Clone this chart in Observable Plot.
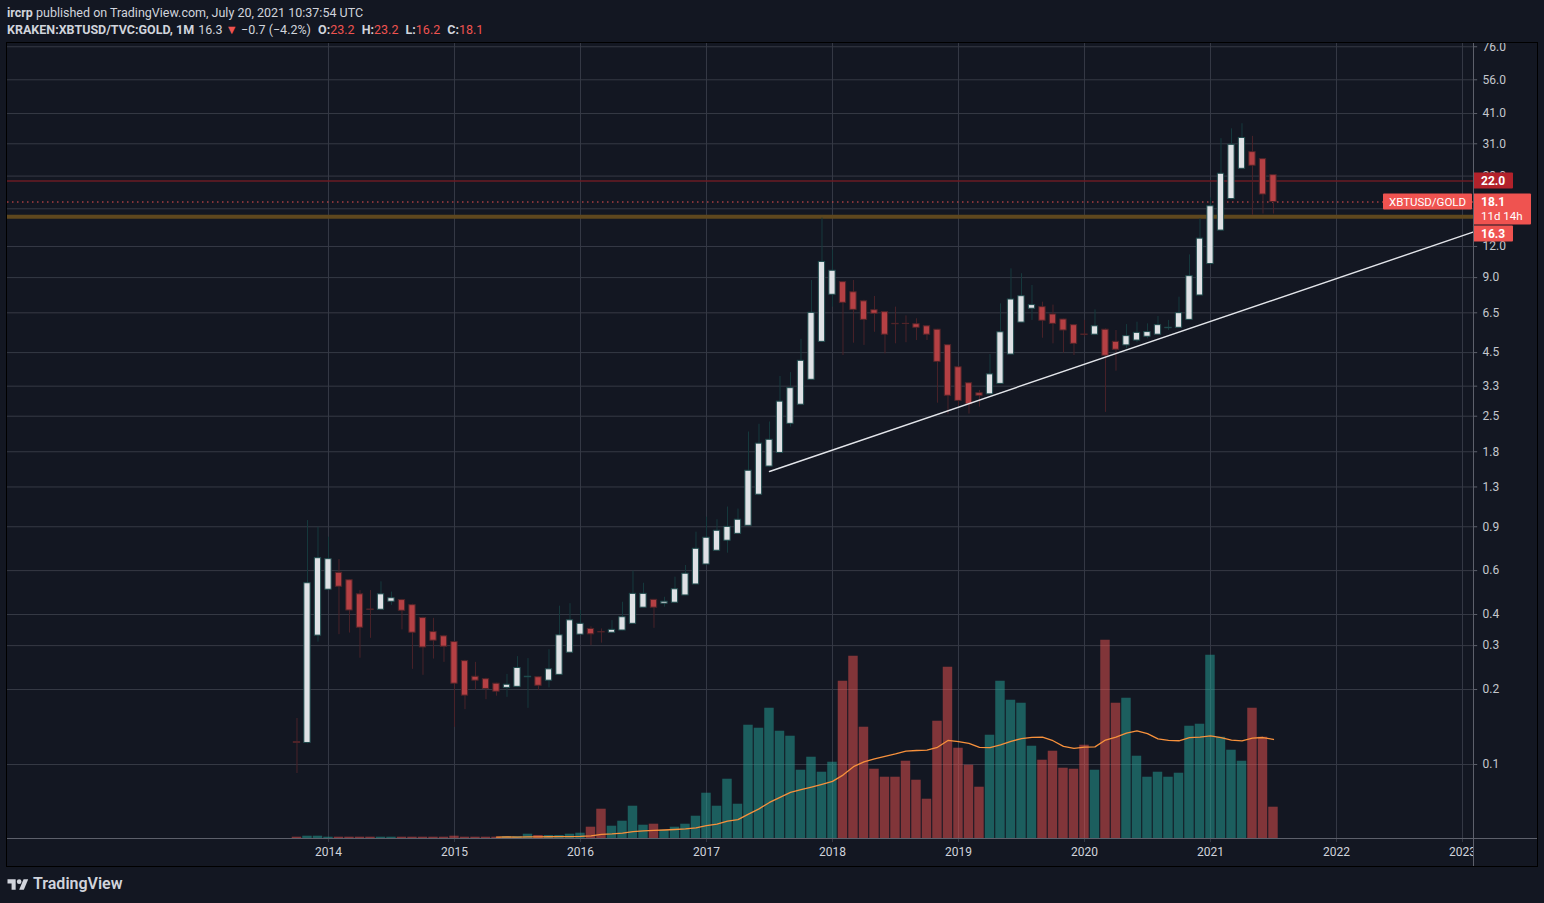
<!DOCTYPE html>
<html><head><meta charset="utf-8">
<script src="https://cdn.jsdelivr.net/npm/d3@7"></script>
<script src="https://cdn.jsdelivr.net/npm/@observablehq/plot@0.6"></script>
<style>
body{margin:0;background:#131722;width:1544px;height:903px;position:relative;overflow:hidden;font-family:Roboto,"Open Sans",sans-serif;color:#d1d4dc}
.hdr{position:absolute;left:7px;font-size:12.5px;white-space:nowrap;line-height:17px}
.hdr b{font-weight:700}
.red{color:#ef5350}
.gap{margin-left:4px}
.layer{position:absolute;left:0;top:43px}
#frame{position:absolute;left:6px;top:42px;width:1530px;height:823px;border:1px solid #000;pointer-events:none}
#sepV{position:absolute;left:1473px;top:43px;width:1px;height:823px;background:#5d606b}
#sepH{position:absolute;left:7px;top:838px;width:1530px;height:1px;background:#5d606b}
#mask{position:absolute;left:1474px;top:839px;width:63px;height:27px;background:#131722}
#footer{position:absolute;left:7px;top:874px;display:flex;align-items:center;gap:4px;font-size:16px;font-weight:600;color:#d1d4dc}
</style></head>
<body>
<div class="hdr" style="top:4px"><b>ircrp</b> published on TradingView.com, July 20, 2021 10:37:54 UTC</div>
<div class="hdr" style="top:21px"><b>KRAKEN:XBTUSD/TVC:GOLD, 1M</b><span class="gap">16.3</span> <span class="red">▼</span> −0.7 (−4.2%) <b class="gap">O:</b><span class="red">23.2</span> <b class="gap">H:</b><span class="red">23.2</span> <b class="gap">L:</b><span class="red">16.2</span> <b class="gap">C:</b><span class="red">18.1</span></div>
<div id="price" class="layer"></div>
<div id="vol" class="layer"></div>
<div id="mask"></div>
<div id="sepV"></div>
<div id="sepH"></div>
<div id="frame"></div>
<div id="footer"><svg width="22" height="14" viewBox="0 0 36 24"><path fill="#d1d4dc" d="M14 22H7V11H0V4h14v18z"/><circle fill="#d1d4dc" cx="20" cy="8" r="4"/><path fill="#d1d4dc" d="M28 22h-8l7.5-18h8z"/></svg><span>TradingView</span></div>
<script>
const months = ["2013-10","2013-11","2013-12",
"2014-01","2014-02","2014-03","2014-04","2014-05","2014-06","2014-07","2014-08","2014-09","2014-10","2014-11","2014-12",
"2015-01","2015-02","2015-03","2015-04","2015-05","2015-06","2015-07","2015-08","2015-09","2015-10","2015-11","2015-12",
"2016-01","2016-02","2016-03","2016-04","2016-05","2016-06","2016-07","2016-08","2016-09","2016-10","2016-11","2016-12",
"2017-01","2017-02","2017-03","2017-04","2017-05","2017-06","2017-07","2017-08","2017-09","2017-10","2017-11","2017-12",
"2018-01","2018-02","2018-03","2018-04","2018-05","2018-06","2018-07","2018-08","2018-09","2018-10","2018-11","2018-12",
"2019-01","2019-02","2019-03","2019-04","2019-05","2019-06","2019-07","2019-08","2019-09","2019-10","2019-11","2019-12",
"2020-01","2020-02","2020-03","2020-04","2020-05","2020-06","2020-07","2020-08","2020-09","2020-10","2020-11","2020-12",
"2021-01","2021-02","2021-03","2021-04","2021-05","2021-06","2021-07"];
const open = [0.123,0.122,0.329,
0.503,0.588,0.549,0.482,0.419,0.418,0.450,0.457,0.436,0.387,0.340,0.327,
0.310,0.260,0.225,0.220,0.211,0.203,0.205,0.224,0.224,0.217,0.229,0.281,
0.332,0.350,0.340,0.338,0.345,0.367,0.426,0.458,0.442,0.446,0.477,0.528,
0.635,0.721,0.791,0.843,0.908,1.21,1.57,1.78,2.33,2.78,3.50,4.97,
7.68,8.63,7.86,7.23,6.66,6.54,5.87,5.87,5.85,5.74,5.56,4.82,
3.93,3.39,3.09,3.06,3.37,4.42,5.94,6.75,6.85,6.40,6.11,5.80,
5.32,5.31,5.56,4.97,4.81,5.03,5.21,5.31,5.64,5.66,6.09,7.63,
10.2,13.9,18.6,24.6,28.7,26.9,23.2];
const high = [0.153,0.953,0.896,
0.817,0.665,0.552,0.499,0.499,0.541,0.492,0.460,0.440,0.390,0.386,0.330,
0.312,0.262,0.257,0.222,0.212,0.230,0.271,0.266,0.225,0.289,0.432,0.442,
0.415,0.357,0.350,0.378,0.448,0.597,0.534,0.460,0.469,0.565,0.629,0.856,
0.983,0.960,1.08,1.06,2.16,2.32,2.37,3.61,3.74,5.09,8.76,15.6,
11.6,8.65,8.76,7.30,7.56,6.56,6.85,6.32,6.15,5.76,5.58,4.84,
3.95,3.40,3.17,4.42,7.06,9.76,9.33,8.37,7.17,6.98,6.13,5.82,
6.06,6.68,5.60,5.52,5.83,5.96,5.87,6.28,6.06,7.51,11.1,15.5,
18.8,32.5,35.6,37.3,33.2,27.0,23.2];
const low = [0.092,0.121,0.310,
0.500,0.332,0.337,0.267,0.321,0.418,0.435,0.347,0.241,0.228,0.265,0.257,
0.141,0.166,0.198,0.182,0.188,0.186,0.204,0.168,0.198,0.203,0.228,0.280,
0.330,0.300,0.307,0.337,0.344,0.366,0.425,0.352,0.428,0.445,0.476,0.527,
0.630,0.720,0.705,0.840,0.905,1.20,1.56,1.77,2.26,2.77,3.49,4.96,
6.85,4.38,4.91,4.81,5.43,4.45,4.88,4.93,5.03,5.03,2.82,2.54,
2.75,2.55,2.72,3.05,3.36,4.41,5.93,6.06,5.14,4.88,4.48,4.38,
5.20,5.30,2.59,3.79,4.66,4.93,5.11,5.30,5.52,5.65,6.08,7.62,
10.1,13.8,18.5,24.5,16.0,16.2,16.2];
const close = [0.122,0.534,0.673,
0.667,0.517,0.415,0.354,0.417,0.482,0.465,0.414,0.338,0.295,0.314,0.297,
0.211,0.189,0.217,0.201,0.196,0.209,0.244,0.225,0.207,0.241,0.330,0.379,
0.367,0.333,0.339,0.347,0.390,0.484,0.484,0.426,0.450,0.505,0.583,0.734,
0.813,0.867,0.899,0.960,1.51,1.94,2.01,2.86,3.24,4.17,6.50,10.4,
9.59,7.13,6.68,6.09,6.44,5.31,5.85,5.86,5.66,5.31,4.13,3.02,
2.88,2.79,3.02,3.68,5.43,7.35,7.58,6.98,6.04,5.87,5.52,4.88,
5.30,5.74,4.37,4.62,5.24,5.40,5.44,5.80,5.66,6.48,9.12,12.9,
17.4,23.5,30.7,32.7,25.3,19.4,18.1];
const volume = [1.3,2.3,2.3,
1.3,1.3,1.3,1.3,1.3,1.3,1.3,1.3,1.3,1.3,1.3,1.3,
2.3,1.3,1.3,1.3,1.3,2,2,4.3,3,3,3,4.3,
5.3,11.3,29.3,12.3,17.3,32.3,13.3,14.3,8.3,11.3,14.3,22.3,
45.3,32.3,59.3,34.3,113.3,110.3,130.3,107.3,102.3,68.3,81.3,66.3,
76.3,157.3,182.3,111.3,69.3,61.3,61.3,77.3,58.3,39.3,117.3,171.3,
90.3,73.3,51.3,103.3,157.3,138.3,135.3,92.3,78.3,87.3,70.3,69.3,
93.3,68.3,198.3,135.3,140.3,82.3,61.3,66.3,61.3,65.3,112.3,114.3,
183.3,101.3,88.3,77.3,130.3,101.3,31.3];
const yTicks = [0.1,0.2,0.3,0.4,0.6,0.9,1.3,1.8,2.5,3.3,4.5,6.5,9,12,17,23,31,41,56,76];
const years = [2014,2015,2016,2017,2018,2019,2020,2021,2022,2023];
const trendMonths = ["2017-07","2023-02"];
const trendValues = [1.50,13.7];
const resistance = 22.0;   // red horizontal line
const support = 15.8;      // thick orange horizontal line
const lastPrice = 18.1;
const badgeLabels = {resistance:"22.0", symbol:"XBTUSD/GOLD", last:"18.1", countdown:"11d 14h", prev:"16.3"};

const idx = m => { const [y, mo] = m.split("-").map(Number); return (y - 2014) * 12 + mo - 1; };
const candles = months.map((m, k) => ({i: idx(m), open: open[k], high: high[k], low: low[k], close: close[k], vol: volume[k], up: close[k] >= open[k]}));
const ma = [];
for (let k = 19; k < volume.length; k++) ma.push({i: candles[k].i, v: d3.mean(volume.slice(k - 19, k + 1))});
const trend = trendMonths.map((m, k) => ({i: idx(m), v: trendValues[k]}));
const yearIdx = years.map(y => (y - 2014) * 12);

const W = 1544, H = 823;
const common = {width: W, height: H, marginLeft: 7, marginRight: 71, marginTop: 0, marginBottom: 28,
  style: {background: "transparent", fontFamily: "Roboto, sans-serif", fontSize: "12px", color: "#c4c7ce"}};
const xDomain = [-30.57, 109.05];
const GRID = "#363a45";

const price = Plot.plot({
  ...common,
  x: {type: "linear", domain: xDomain, axis: null},
  y: {type: "log", domain: [0.050463, 78.32], axis: null},
  marks: [
    Plot.ruleY(yTicks, {stroke: GRID}),
    Plot.ruleX(yearIdx, {stroke: GRID, insetBottom: -4}),
    Plot.ruleY([support], {stroke: "#5e471e", strokeWidth: 4}),
    Plot.ruleY([resistance], {stroke: "#6b1c24", strokeWidth: 1.5}),
    Plot.ruleY([lastPrice], {stroke: "#ef5350", strokeWidth: 1, strokeDasharray: "1.5,3.5"}),
    Plot.ruleX(candles, {x: "i", y1: "low", y2: "high", stroke: d => d.up ? "#163a3d" : "#4a2229", strokeWidth: 1}),
    Plot.rect(candles, {x1: d => d.i - 0.3, x2: d => d.i + 0.3, y1: "open", y2: "close",
      fill: d => d.up ? "#dfe1e5" : "#b54044", stroke: d => d.up ? "#1f4a4c" : "#4f2429", strokeWidth: 1}),
    Plot.line(trend, {x: "i", y: "v", stroke: "#e3e5ea", strokeWidth: 1.4}),
    // price axis: small ticks right of the pane and their labels
    Plot.ruleY(yTicks, {x1: xDomain[1], x2: xDomain[1] + 0.4, stroke: "#5d606b"}),
    Plot.text(yTicks, {x: xDomain[1], y: d => d, dx: 9, text: d => d.toFixed(1), textAnchor: "start",
      fill: "#c4c7ce", fontSize: 12}),
    // time axis labels
    Plot.text(yearIdx, {x: d => d, frameAnchor: "bottom", dy: 14, text: i => String(2014 + i / 12),
      fill: "#d1d4dc", fontSize: 12, lineAnchor: "middle"})
  ]
});
document.getElementById("price").appendChild(price);

// price badges placed through the library's y scale
const ys = price.scale("y");
const svg = d3.select(price);
const xr = W - common.marginRight;
const g = svg.append("g").attr("font-family", "Roboto, sans-serif").attr("font-size", 12);
function badge(x, y, w, h, fill) { g.append("rect").attr("x", x).attr("y", y).attr("width", w).attr("height", h).attr("fill", fill).attr("rx", 1); }
function label(x, y, t, opts = {}) { g.append("text").attr("x", x).attr("y", y).attr("fill", "#fff").attr("font-weight", opts.bold ? 700 : 400).attr("text-anchor", opts.anchor || "start").attr("dominant-baseline", "central").attr("font-size", opts.size || 12).text(t); }
const yr = ys.apply(resistance);
badge(xr, yr - 8, 40, 16, "#b3222b");
label(xr + 8, yr + 0.5, badgeLabels.resistance, {bold: true});
const yl = ys.apply(lastPrice);
badge(xr - 90, yl - 8, 89, 16, "#ef5350");
label(xr - 45.5, yl + 0.5, badgeLabels.symbol, {anchor: "middle", size: 11.5});
badge(xr, yl - 8, 58, 31, "#ef5350");
label(xr + 8, yl + 0.5, badgeLabels.last, {bold: true});
label(xr + 8, yl + 14.5, badgeLabels.countdown, {size: 11.5});
badge(xr, yl + 24, 40, 16, "#ef5350");
label(xr + 8, yl + 32.5, badgeLabels.prev, {bold: true});

const vol = Plot.plot({
  ...common,
  x: {type: "linear", domain: xDomain, axis: null},
  y: {domain: [0, d3.max(volume) * 4.01], axis: null},
  marks: [
    Plot.rectY(candles, {x1: d => d.i - 0.45, x2: d => d.i + 0.45, y: "vol",
      fill: d => d.up ? "#26a69a" : "#ef5350", fillOpacity: 0.5}),
    Plot.line(ma, {x: "i", y: "v", stroke: "#f7913c", strokeWidth: 1.3})
  ]
});
document.getElementById("vol").appendChild(vol);
</script>
</body></html>
